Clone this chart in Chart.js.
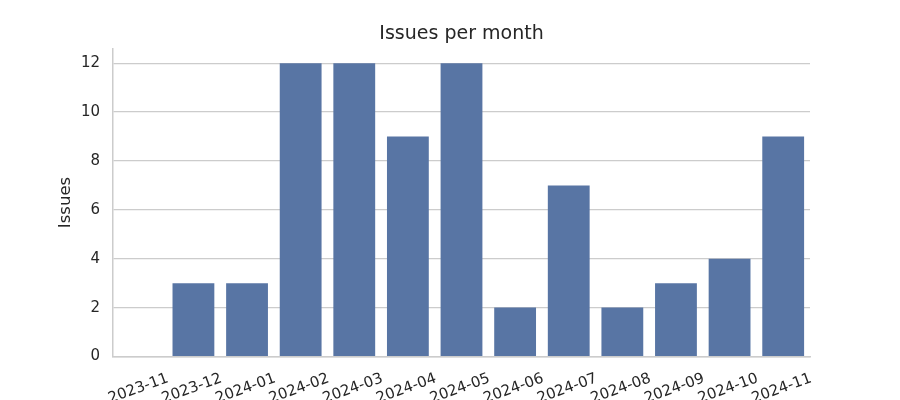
<!DOCTYPE html>
<html>
<head>
<meta charset="utf-8">
<script src="https://cdn.jsdelivr.net/npm/chart.js@4.4.1/dist/chart.umd.min.js"></script>
<style>
  html, body { margin: 0; padding: 0; background: #fff; }
  #wrap { width: 900px; height: 400px; }
</style>
</head>
<body>
<div id="wrap"><canvas id="chart" width="900" height="400"></canvas></div>
<script>
// --- Data ---
const months = ['2023-11', '2023-12', '2024-01', '2024-02', '2024-03', '2024-04', '2024-05',
    '2024-06', '2024-07', '2024-08', '2024-09', '2024-10', '2024-11'];
const issues = [0, 3, 3, 12, 12, 9, 12, 2, 7, 2, 3, 4, 9];
const yTicks = [0, 2, 4, 6, 8, 10, 12];
const chartTitle = 'Issues per month';

const TEXT = '#262626';
const GRID = '#cccccc';
const BAR = '#5875a4';
const FONT = "'DejaVu Sans', sans-serif";

Chart.defaults.font.family = FONT;
Chart.defaults.color = TEXT;

// title centred over the plot area (matplotlib style), not the whole canvas
const axesTitle = {
    id: 'axesTitle',
    afterDraw(chart) {
        const { ctx, chartArea } = chart;
        ctx.save();
        ctx.font = `19px ${FONT}`;
        ctx.fillStyle = TEXT;
        ctx.textAlign = 'center';
        ctx.textBaseline = 'middle';
        ctx.fillText(chartTitle, (chartArea.left + chartArea.right) / 2, 34);
        ctx.restore();
    }
};

const ctx = document.getElementById('chart').getContext('2d');
new Chart(ctx, {
    type: 'bar',
    data: {
        labels: months,
        datasets: [{
            label: 'Issues',
            data: issues,
            backgroundColor: BAR,
            borderWidth: 0,
            barPercentage: 0.78,
            categoryPercentage: 1.0
        }]
    },
    options: {
        responsive: false,
        animation: false,
        layout: { padding: { left: 0, right: 90, top: 48.5, bottom: 0 } },
        plugins: {
            legend: { display: false },
            tooltip: { enabled: false },
            title: { display: false }
        },
        scales: {
            x: {
                offset: true,
                grid: { display: false, drawTicks: false },
                border: { display: true, color: GRID, width: 1.5 },
                ticks: {
                    autoSkip: false,
                    minRotation: 20,
                    maxRotation: 20,
                    labelOffset: 28,
                    padding: 13,
                    color: TEXT,
                    font: { size: 15 }
                },
                afterFit: (scale) => { scale.height = 43.5; }
            },
            y: {
                min: 0,
                max: 12.6,
                grid: { color: GRID, lineWidth: 1.2, drawTicks: false },
                border: { display: true, color: GRID, width: 1.5 },
                ticks: {
                    stepSize: 2,
                    padding: 13,
                    color: TEXT,
                    font: { size: 15 }
                },
                afterBuildTicks: (scale) => {
                    scale.ticks = yTicks.map(v => ({ value: v }));
                },
                title: {
                    display: true,
                    text: 'Issues',
                    color: TEXT,
                    font: { size: 16.5 },
                    padding: { top: 56, bottom: 0 }
                },
                afterFit: (scale) => { scale.width = 113; }
            }
        }
    },
    plugins: [axesTitle]
});
</script>
</body>
</html>
